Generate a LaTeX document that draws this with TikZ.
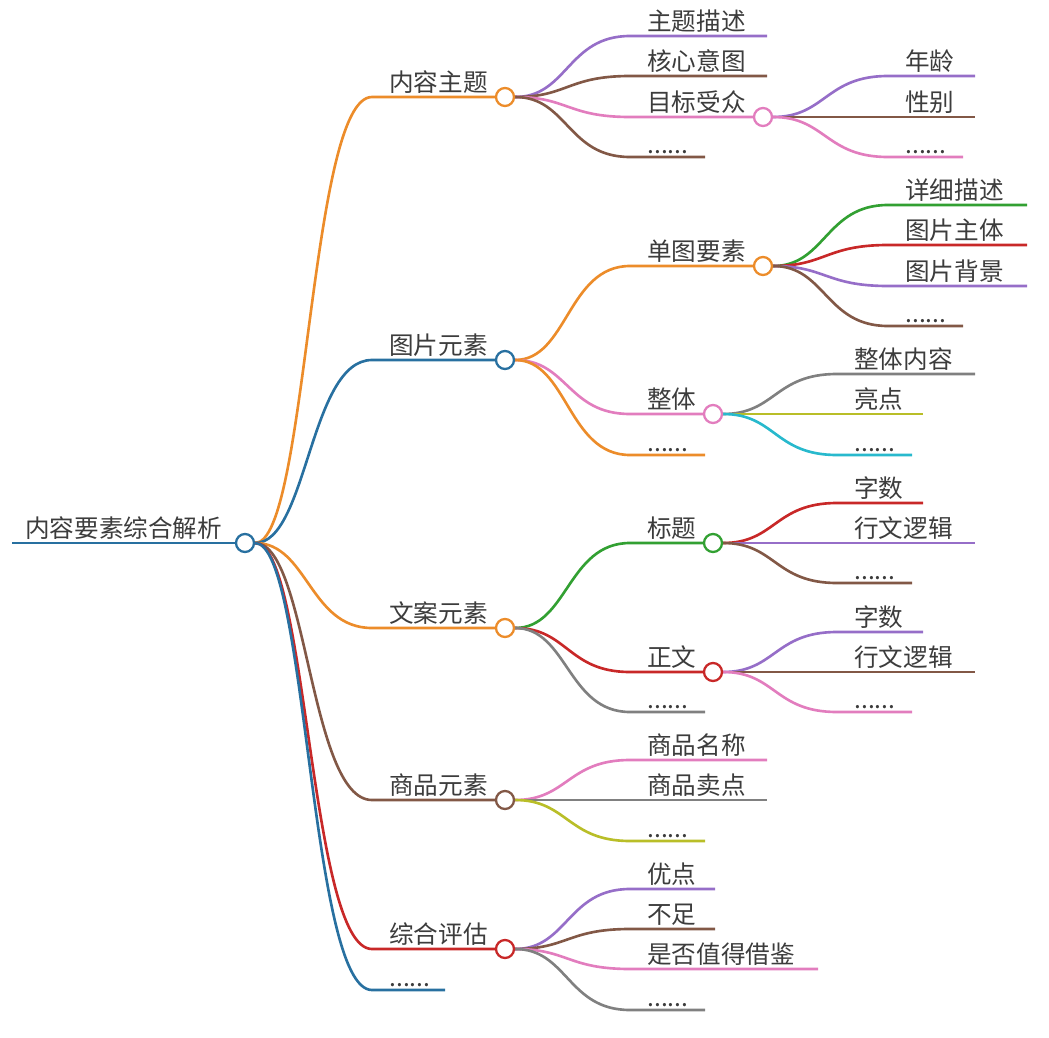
\documentclass[tikz,border=0pt]{standalone}
\usepackage{fontspec}
\setmainfont{Noto Sans CJK SC}
\usetikzlibrary{backgrounds}
\definecolor{morange}{RGB}{236,140,42}
\definecolor{mblue}{RGB}{40,112,160}
\definecolor{mpurple}{RGB}{150,110,200}
\definecolor{mbrown}{RGB}{130,88,70}
\definecolor{mpink}{RGB}{226,125,190}
\definecolor{mgreen}{RGB}{50,160,50}
\definecolor{mred}{RGB}{200,40,40}
\definecolor{mgrey}{RGB}{128,128,128}
\definecolor{molive}{RGB}{185,190,40}
\definecolor{mcyan}{RGB}{40,185,205}
\definecolor{mtext}{RGB}{60,60,60}
\tikzset{
  branch/.style={line width=1.5pt},
  label/.style={anchor=south west, inner sep=0pt, text=mtext, font=\fontsize{14}{16}\selectfont},
  hub/.style={circle, line width=1.3pt, fill=white, minimum size=0.36cm, inner sep=0pt}
}
% #1 parent, #2 name, #3 line start x, #4 y, #5 line end x, #6 colour, #7 text
\newcommand\leaf[7]{%
  \coordinate (#2s) at (#3,#4);
  \coordinate (#2e) at (#5,#4);
  \begin{pgfonlayer}{background}
    \draw[branch,#6] (#1) .. controls ([xshift=1.25cm]#1) and ([xshift=-1.25cm]#2s) .. (#2s) -- (#2e);
  \end{pgfonlayer}
  \node[label] (#2) at ([xshift=0.34cm,yshift=0.06cm]#2s) {#7};}
% same, with a hub circle at the end of the line
\newcommand\hubleaf[7]{%
  \leaf{#1}{#2}{#3}{#4}{#5}{#6}{#7}
  \node[hub,draw=#6] (#2c) at (#2e) {};}
\begin{document}
\begin{tikzpicture}[x=0.02cm,y=-0.02cm]
  \useasboundingbox (0,0) rectangle (1049,1038);
  % root
  \coordinate (roots) at (12,543);
  \node[hub,draw=mblue] (rootc) at (245,543) {};
  \begin{pgfonlayer}{background}
    \draw[branch,mblue] (roots) -- (rootc);
  \end{pgfonlayer}
  \node[label] (root) at ([xshift=0.26cm,yshift=0.06cm]roots) {内容要素综合解析};
  % level 1
  \hubleaf{rootc}{topic}{372}{97}{505}{morange}{内容主题}
  \hubleaf{rootc}{pic}{372}{360}{505}{mblue}{图片元素}
  \hubleaf{rootc}{copy}{372}{628}{505}{morange}{文案元素}
  \hubleaf{rootc}{goods}{372}{800}{505}{mbrown}{商品元素}
  \hubleaf{rootc}{eval}{372}{949}{505}{mred}{综合评估}
  \leaf{rootc}{more}{372}{990}{445}{mblue}{......}
  % 内容主题
  \leaf{topicc}{desc}{630}{36}{767}{mpurple}{主题描述}
  \leaf{topicc}{core}{630}{76}{767}{mbrown}{核心意图}
  \hubleaf{topicc}{aud}{630}{117}{763}{mpink}{目标受众}
  \leaf{topicc}{topicm}{630}{157}{705}{mbrown}{......}
  \leaf{audc}{age}{888}{76}{975}{mpurple}{年龄}
  \leaf{audc}{sex}{888}{117}{975}{mbrown}{性别}
  \leaf{audc}{audm}{888}{157}{963}{mpink}{......}
  % 图片元素
  \hubleaf{picc}{single}{630}{266}{763}{morange}{单图要素}
  \hubleaf{picc}{whole}{630}{414}{713}{mpink}{整体}
  \leaf{picc}{picm}{630}{455}{705}{morange}{......}
  \leaf{singlec}{detail}{888}{205}{1027}{mgreen}{详细描述}
  \leaf{singlec}{subj}{888}{245}{1027}{mred}{图片主体}
  \leaf{singlec}{bg}{888}{286}{1027}{mpurple}{图片背景}
  \leaf{singlec}{singlem}{888}{326}{963}{mbrown}{......}
  \leaf{wholec}{content}{837}{374}{975}{mgrey}{整体内容}
  \leaf{wholec}{high}{837}{414}{923}{molive}{亮点}
  \leaf{wholec}{wholem}{837}{455}{912}{mcyan}{......}
  % 文案元素
  \hubleaf{copyc}{title}{630}{543}{713}{mgreen}{标题}
  \hubleaf{copyc}{body}{630}{672}{713}{mred}{正文}
  \leaf{copyc}{copym}{630}{712}{705}{mgrey}{......}
  \leaf{titlec}{tnum}{837}{503}{923}{mred}{字数}
  \leaf{titlec}{tlogic}{837}{543}{975}{mpurple}{行文逻辑}
  \leaf{titlec}{titlem}{837}{583}{912}{mbrown}{......}
  \leaf{bodyc}{bnum}{837}{632}{923}{mpurple}{字数}
  \leaf{bodyc}{blogic}{837}{672}{975}{mbrown}{行文逻辑}
  \leaf{bodyc}{bodym}{837}{712}{912}{mpink}{......}
  % 商品元素
  \leaf{goodsc}{gname}{630}{760}{767}{mpink}{商品名称}
  \leaf{goodsc}{gsell}{630}{800}{767}{mgrey}{商品卖点}
  \leaf{goodsc}{goodsm}{630}{841}{705}{molive}{......}
  % 综合评估
  \leaf{evalc}{pro}{630}{889}{715}{mpurple}{优点}
  \leaf{evalc}{con}{630}{929}{715}{mbrown}{不足}
  \leaf{evalc}{ref}{630}{969}{818}{mpink}{是否值得借鉴}
  \leaf{evalc}{evalm}{630}{1010}{705}{mgrey}{......}
\end{tikzpicture}
\end{document}
